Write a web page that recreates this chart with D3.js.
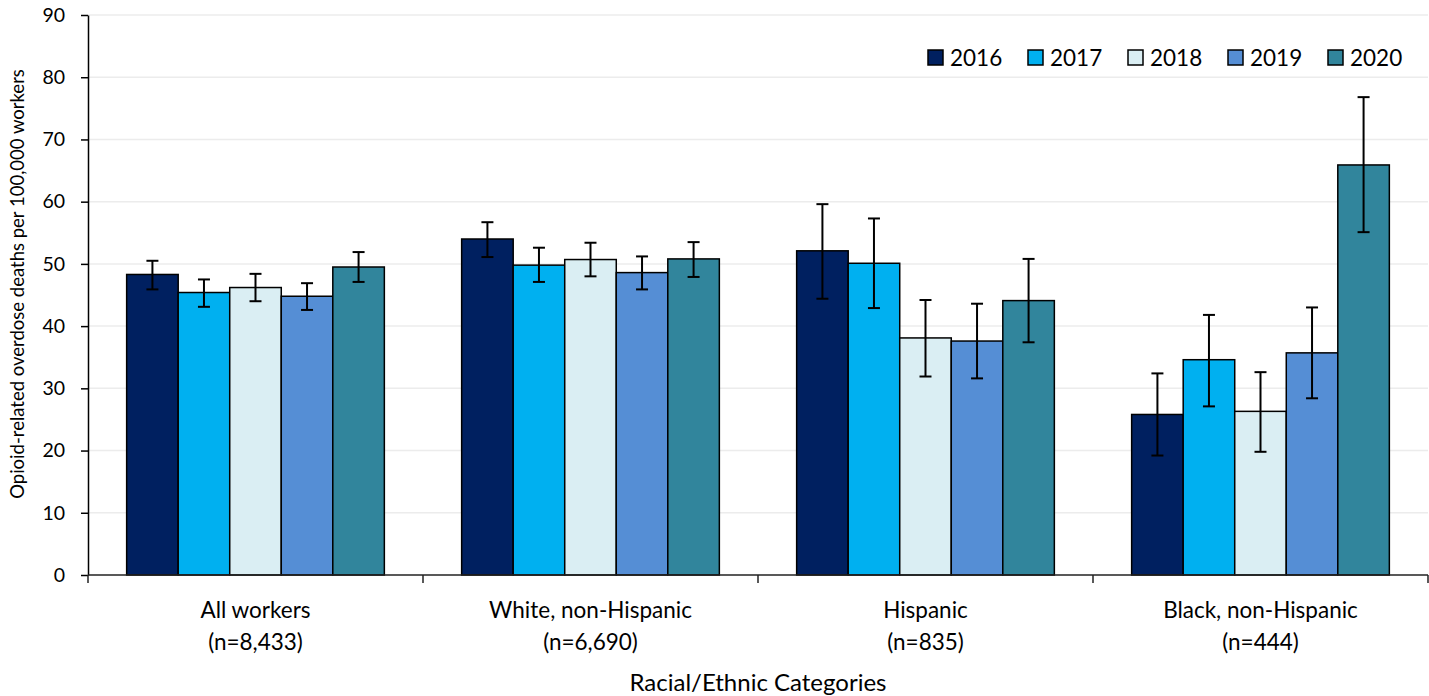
<!DOCTYPE html>
<html>
<head>
<meta charset="utf-8">
<script src="https://cdn.jsdelivr.net/npm/d3@7"></script>
<style>
  html, body { margin: 0; padding: 0; background: #fff; }
  svg { display: block; font-family: Lato, "Open Sans", sans-serif; }
</style>
</head>
<body>
<svg id="chart" width="1429" height="696"></svg>
<script>
// Opioid-related overdose death rates by race/ethnicity, 2016–2020
const categories = ["All workers", "White, non-Hispanic", "Hispanic", "Black, non-Hispanic"];
const counts = ["(n=8,433)", "(n=6,690)", "(n=835)", "(n=444)"];
const years = ["2016", "2017", "2018", "2019", "2020"];
const colors = ["#002060", "#00B0F0", "#DAEEF3", "#558ED5", "#31859C"];

// rate per 100,000 workers, one array per category (2016..2020)
const rates = [
  [48.3, 45.4, 46.2, 44.8, 49.5],
  [54.0, 49.8, 50.7, 48.6, 50.8],
  [52.1, 50.1, 38.1, 37.6, 44.1],
  [25.8, 34.6, 26.3, 35.7, 65.9]
];
// 95% confidence interval bounds
const lower = [
  [45.9, 43.1, 44.0, 42.6, 47.1],
  [51.1, 47.1, 48.0, 45.9, 47.9],
  [44.4, 42.9, 31.9, 31.6, 37.4],
  [19.2, 27.1, 19.8, 28.4, 55.1]
];
const upper = [
  [50.5, 47.5, 48.4, 46.9, 51.9],
  [56.7, 52.6, 53.4, 51.2, 53.5],
  [59.6, 57.3, 44.2, 43.6, 50.8],
  [32.4, 41.8, 32.6, 43.0, 76.8]
];
const yTicks = [0, 10, 20, 30, 40, 50, 60, 70, 80, 90];

const svg = d3.select("#chart");
const plotLeft = 88, plotRight = 1428, plotTop = 15, plotBottom = 575;

const x0 = d3.scaleBand().domain(categories).range([plotLeft, plotRight]).padding(0);
const bw = x0.bandwidth();
const gap = bw * 0.75 / 6.5;
const x1 = d3.scaleBand().domain(years).range([gap, bw - gap]).padding(0);
const y = d3.scaleLinear().domain([0, 90]).range([plotBottom, plotTop]);
const color = d3.scaleOrdinal().domain(years).range(colors);

// horizontal gridlines
svg.append("g")
  .selectAll("line")
  .data(yTicks.filter(d => d > 0))
  .join("line")
  .attr("x1", plotLeft).attr("x2", plotRight)
  .attr("y1", d => y(d)).attr("y2", d => y(d))
  .attr("stroke", "#ececec").attr("stroke-width", 1.5);

// bars
const rows = [];
categories.forEach((c, i) => years.forEach((yr, j) => rows.push({
  cat: c, year: yr, v: rates[i][j], lo: lower[i][j], hi: upper[i][j]
})));

const bars = svg.append("g");
bars.selectAll("rect")
  .data(rows)
  .join("rect")
  .attr("x", d => x0(d.cat) + x1(d.year))
  .attr("y", d => y(d.v))
  .attr("width", x1.bandwidth())
  .attr("height", d => y(0) - y(d.v))
  .attr("fill", d => color(d.year))
  .attr("stroke", "#000")
  .attr("stroke-width", 1.5);

// error bars
const err = svg.append("g").attr("stroke", "#000").attr("stroke-width", 2);
const cx = d => x0(d.cat) + x1(d.year) + x1.bandwidth() / 2;
err.selectAll("line.v").data(rows).join("line").attr("class", "v")
  .attr("x1", cx).attr("x2", cx)
  .attr("y1", d => y(d.lo)).attr("y2", d => y(d.hi));
err.selectAll("line.t").data(rows).join("line").attr("class", "t")
  .attr("x1", d => cx(d) - 6).attr("x2", d => cx(d) + 6)
  .attr("y1", d => y(d.hi)).attr("y2", d => y(d.hi));
err.selectAll("line.b").data(rows).join("line").attr("class", "b")
  .attr("x1", d => cx(d) - 6).attr("x2", d => cx(d) + 6)
  .attr("y1", d => y(d.lo)).attr("y2", d => y(d.lo));

// y axis
const yAxis = svg.append("g")
  .attr("transform", `translate(${plotLeft},0)`)
  .call(d3.axisLeft(y).tickValues(yTicks).tickSize(7).tickSizeOuter(0).tickPadding(16));
yAxis.select(".domain").attr("stroke", "#000").attr("stroke-width", 1.5);
yAxis.selectAll(".tick line").attr("stroke", "#000").attr("stroke-width", 1.5);
yAxis.selectAll(".tick text")
  .attr("font-family", "Lato, sans-serif")
  .attr("font-size", 19.5).attr("fill", "#000");

// x axis line with category boundary ticks
const xg = svg.append("g");
xg.append("line")
  .attr("x1", plotLeft).attr("x2", plotRight)
  .attr("y1", y(0)).attr("y2", y(0))
  .attr("stroke", "#222").attr("stroke-width", 1.5);
const bounds = categories.map(c => x0(c)).concat([x0.range()[1]]);
xg.selectAll("line.tk").data(bounds).join("line").attr("class", "tk")
  .attr("x1", d => d).attr("x2", d => d)
  .attr("y1", y(0)).attr("y2", y(0) + 8)
  .attr("stroke", "#222").attr("stroke-width", 1.5);

// category labels
const lab = xg.selectAll("text.cat").data(categories).join("text").attr("class", "cat")
  .attr("x", d => x0(d) + bw / 2)
  .attr("text-anchor", "middle")
  .attr("font-size", 22.5).attr("fill", "#000");
lab.append("tspan").attr("x", d => x0(d) + bw / 2).attr("y", 618).text(d => d);
lab.append("tspan").attr("x", d => x0(d) + bw / 2).attr("y", 650).text((d, i) => counts[i]);

// axis titles
svg.append("text")
  .attr("x", 758).attr("y", 691)
  .attr("text-anchor", "middle")
  .attr("font-size", 24).attr("fill", "#000")
  .text("Racial/Ethnic Categories");

svg.append("text")
  .attr("transform", "translate(24,284) rotate(-90)")
  .attr("text-anchor", "middle")
  .attr("font-size", 18.5).attr("fill", "#000")
  .text("Opioid-related overdose deaths per 100,000 workers");

// legend
const legend = svg.append("g").attr("transform", "translate(928,50)");
const li = legend.selectAll("g").data(years).join("g")
  .attr("transform", (d, i) => `translate(${i * 100},0)`);
li.append("rect")
  .attr("width", 15).attr("height", 15)
  .attr("fill", d => color(d))
  .attr("stroke", "#000").attr("stroke-width", 1.5);
li.append("text")
  .attr("x", 22).attr("y", 16)
  .attr("font-size", 22.5).attr("fill", "#000")
  .text(d => d);
</script>
</body>
</html>
